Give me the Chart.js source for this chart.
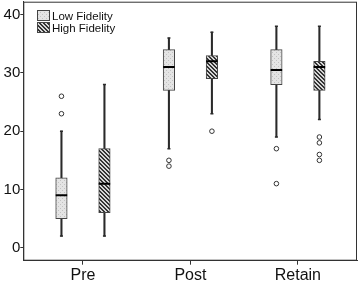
<!DOCTYPE html>
<html>
<head>
<meta charset="utf-8">
<script src="https://cdn.jsdelivr.net/npm/chart.js@4.4.1/dist/chart.umd.min.js"></script>
<style>
  html, body { margin: 0; padding: 0; background: #fff; }
  #wrap { width: 359px; height: 282px; position: relative; }
</style>
</head>
<body>
<div id="wrap"><canvas id="boxChart"></canvas></div>
<script>
const groups = ['Pre', 'Post', 'Retain'];
const yTicks = [0, 10, 20, 30, 40];

// Low Fidelity
const lowMin = [2, 17, 19];
const lowQ1 = [5, 27, 28];
const lowMedian = [9, 31, 30.5];
const lowQ3 = [12, 34, 34];
const lowMax = [20, 36, 38];
const lowOutliers = [[26, 23], [15, 14], [17, 11]];

// High Fidelity
const highMin = [2, 23, 22];
const highQ1 = [6, 29, 27];
const highMedian = [11, 32, 31];
const highQ3 = [17, 33, 32];
const highMax = [28, 37, 38];
const highOutliers = [[], [20], [19, 18, 16, 15]];

const FONT = "'Liberation Sans', Arial, sans-serif";
const INK = '#2a2a2a';

function makePattern(kind) {
  const c = document.createElement('canvas');
  c.width = 4; c.height = 4;
  const g = c.getContext('2d');
  if (kind === 'dots') {
    g.fillStyle = '#e4e4e4';
    g.fillRect(0, 0, 4, 4);
    g.fillStyle = '#c2c2c2';
    g.fillRect(0, 0, 1, 1);
    g.fillRect(2, 2, 1, 1);
  } else {
    g.fillStyle = '#d6d6d6';
    g.fillRect(0, 0, 4, 4);
    g.fillStyle = '#333';
    for (let y = 0; y < 4; y++) {
      for (let x = 0; x < 4; x++) {
        const d = ((x - y) % 4 + 4) % 4;
        if (d === 0 || d === 1) g.fillRect(x, y, 1, 1);
      }
    }
  }
  return c.getContext('2d').createPattern(c, 'repeat');
}

const lowFill = makePattern('dots');
const highFill = makePattern('hatch');
const shift = 0.2;

function pos(i, side) { return i + 1 + side * shift; }

function whiskers(mins, maxs, side) {
  return mins.map((m, i) => ({ x: pos(i, side), y: [m, maxs[i]] }));
}
function boxes(q1, q3, side) {
  return q1.map((a, i) => ({ x: pos(i, side), y: [a, q3[i]] }));
}
function points(vals, side) {
  return vals.map((v, i) => ({ x: pos(i, side), y: v }));
}
function caps(mins, maxs, side) {
  const out = [];
  mins.forEach((m, i) => {
    out.push({ x: pos(i, side), y: m });
    out.push({ x: pos(i, side), y: maxs[i] });
  });
  return out;
}
function outlierPoints(list, side) {
  const out = [];
  list.forEach((vals, i) => vals.forEach(v => out.push({ x: pos(i, side), y: v })));
  return out;
}

const whiskerStyle = {
  type: 'bar', grouped: false, barThickness: 1.4,
  backgroundColor: INK, borderWidth: 0, order: 5
};
const boxStyle = {
  type: 'bar', grouped: false, barThickness: 11.5,
  borderColor: '#444', borderWidth: 1, borderSkipped: false, order: 4
};
const capStyle = {
  type: 'line', showLine: false, pointStyle: 'line',
  pointRadius: 1.5, borderColor: INK, borderWidth: 1.5, order: 3
};
const medianStyle = {
  type: 'line', showLine: false, pointStyle: 'line',
  pointRadius: 5.75, borderColor: '#000', borderWidth: 2, order: 1
};
const outlierStyle = {
  type: 'line', showLine: false, pointStyle: 'circle',
  pointRadius: 2.3, backgroundColor: '#fff', borderColor: '#333', borderWidth: 1, order: 2
};

const frameLegend = {
  id: 'frameLegend',
  afterDraw(chart) {
    const { ctx, chartArea } = chart;
    ctx.save();
    ctx.strokeStyle = '#333';
    ctx.lineWidth = 1;
    ctx.strokeRect(chartArea.left + 0.5, chartArea.top + 0.5,
      chartArea.right - chartArea.left - 1, chartArea.bottom - chartArea.top - 1);

    const items = [['Low Fidelity', lowFill], ['High Fidelity', highFill]];
    ctx.font = '11.5px ' + FONT;
    ctx.textBaseline = 'alphabetic';
    items.forEach(([label, fill], k) => {
      const bx = 37, by = 10 + k * 12;
      ctx.fillStyle = fill;
      ctx.fillRect(bx, by, 13, 11);
      ctx.strokeStyle = '#444';
      ctx.strokeRect(bx + 0.5, by + 0.5, 12, 10);
      ctx.fillStyle = '#111';
      ctx.fillText(label, 52, by + 10);
    });
    ctx.restore();
  }
};

new Chart(document.getElementById('boxChart'), {
  type: 'bar',
  data: {
    datasets: [
      Object.assign({ label: 'low whisker', data: whiskers(lowMin, lowMax, -1) }, whiskerStyle),
      Object.assign({ label: 'high whisker', data: whiskers(highMin, highMax, 1) }, whiskerStyle),
      Object.assign({ label: 'Low Fidelity', data: boxes(lowQ1, lowQ3, -1), backgroundColor: lowFill }, boxStyle),
      Object.assign({ label: 'High Fidelity', data: boxes(highQ1, highQ3, 1), backgroundColor: highFill }, boxStyle),
      Object.assign({ label: 'low caps', data: caps(lowMin, lowMax, -1) }, capStyle),
      Object.assign({ label: 'high caps', data: caps(highMin, highMax, 1) }, capStyle),
      Object.assign({ label: 'low median', data: points(lowMedian, -1) }, medianStyle),
      Object.assign({ label: 'high median', data: points(highMedian, 1) }, medianStyle),
      Object.assign({ label: 'low outliers', data: outlierPoints(lowOutliers, -1) }, outlierStyle),
      Object.assign({ label: 'high outliers', data: outlierPoints(highOutliers, 1) }, outlierStyle)
    ]
  },
  options: {
    responsive: true,
    maintainAspectRatio: false,
    animation: false,
    layout: { autoPadding: false, padding: { top: 1.7, right: 2, left: 0, bottom: 0 } },
    plugins: {
      legend: { display: false },
      tooltip: { enabled: false }
    },
    scales: {
      x: {
        type: 'linear',
        min: 0.445,
        max: 3.55,
        offset: false,
        grid: { offset: false, drawOnChartArea: false, drawTicks: true, tickLength: 4, color: '#333' },
        border: { display: true, color: '#333' },
        afterBuildTicks(axis) { axis.ticks = [1, 2, 3].map(v => ({ value: v })); },
        afterFit(axis) {
          axis.height = 21.3;
          axis.paddingLeft = 0;
          axis.paddingRight = 0;
        },
        ticks: {
          autoSkip: false,
          maxRotation: 0,
          padding: 1,
          color: '#111',
          font: { family: FONT, size: 16 },
          callback: v => groups[v - 1]
        }
      },
      y: {
        min: -2.23,
        max: 42.23,
        grid: { drawOnChartArea: false, drawTicks: true, tickLength: 3, color: '#333' },
        border: { display: true, color: '#333' },
        afterBuildTicks(axis) { axis.ticks = yTicks.map(v => ({ value: v })); },
        afterFit(axis) {
          axis.width = 23.3;
          axis.paddingTop = 0;
          axis.paddingBottom = 0;
        },
        ticks: {
          padding: 0,
          color: '#111',
          font: { family: FONT, size: 15 }
        }
      }
    }
  },
  plugins: [frameLegend]
});
</script>
</body>
</html>
